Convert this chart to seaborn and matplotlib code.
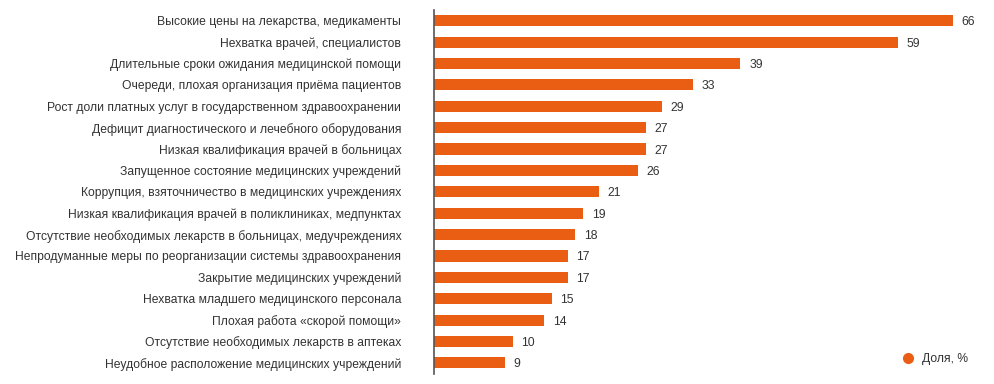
import matplotlib
matplotlib.use("Agg")
import matplotlib.pyplot as plt
import seaborn as sns
import pandas as pd
from matplotlib.lines import Line2D

categories = [
    "Высокие цены на лекарства, медикаменты",
    "Нехватка врачей, специалистов",
    "Длительные сроки ожидания медицинской помощи",
    "Очереди, плохая организация приёма пациентов",
    "Рост доли платных услуг в государственном здравоохранении",
    "Дефицит диагностического и лечебного оборудования",
    "Низкая квалификация врачей в больницах",
    "Запущенное состояние медицинских учреждений",
    "Коррупция, взяточничество в медицинских учреждениях",
    "Низкая квалификация врачей в поликлиниках, медпунктах",
    "Отсутствие необходимых лекарств в больницах, медучреждениях",
    "Непродуманные меры по реорганизации системы здравоохранения",
    "Закрытие медицинских учреждений",
    "Нехватка младшего медицинского персонала",
    "Плохая работа «скорой помощи»",
    "Отсутствие необходимых лекарств в аптеках",
    "Неудобное расположение медицинских учреждений",
]
values = [66, 59, 39, 33, 29, 27, 27, 26, 21, 19, 18, 17, 17, 15, 14, 10, 9]
series_name = "Доля, %"

sns.set_theme(style="white")
plt.rcParams["font.family"] = ["Liberation Sans", "DejaVu Sans"]

color = "#E95E13"
text_color = "#333333"
fs = 8.7

df = pd.DataFrame({"cat": categories, "val": values})

fig = plt.figure(figsize=(9.94, 3.84), dpi=100)
ax = fig.add_axes([434 / 994, 10 / 384, (984 - 434) / 994, 364 / 384])

sns.barplot(data=df, x="val", y="cat", orient="h", color=color,
            width=0.52, ax=ax, saturation=1, linewidth=0)

ax.set_xlim(0, 70)
ax.set_ylim(16.52, -0.5)
ax.set_xlabel("")
ax.set_ylabel("")
ax.set_xticks([])
ax.tick_params(axis="y", length=0, pad=23.5, labelsize=fs, labelcolor=text_color)
for s in ["top", "right", "bottom"]:
    ax.spines[s].set_visible(False)
ax.spines["left"].set_color("#555555")
ax.spines["left"].set_linewidth(1.2)

for i, v in enumerate(values):
    ax.text(v + 1.1, i, str(v), va="center_baseline", ha="left", fontsize=fs,
            color=text_color)

handle = Line2D([], [], marker="o", linestyle="", color=color, markersize=7)
fig.legend([handle], [series_name], loc="lower right", bbox_to_anchor=(0.985, 0.02),
           frameon=False, fontsize=fs, handletextpad=0.2, labelcolor=text_color)

fig.savefig("out.png", dpi=100)
